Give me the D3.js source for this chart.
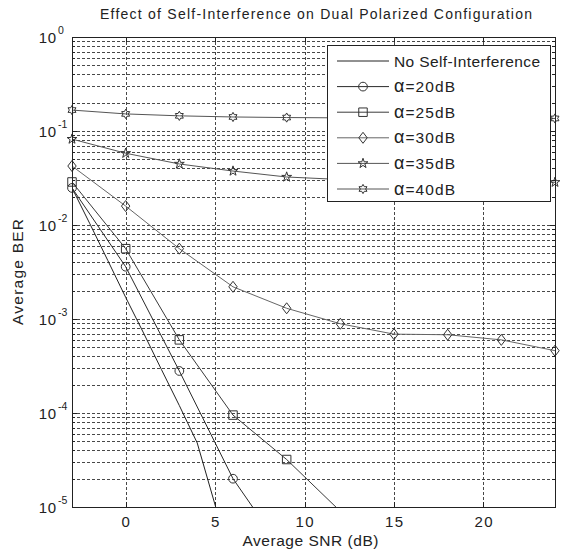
<!DOCTYPE html>
<html lang="en">
<head>
<meta charset="UTF-8">
<title>Self-Interference BER</title>
<style>
    body { margin: 0; background: #fff; }
    svg { display: block; font-family: "Liberation Sans", Arial, sans-serif; }
</style>
</head>
<body>
<div id="chart"></div>
<script src="https://d3js.org/d3.v7.min.js"></script>
<script>
// x values
const snrNoSI = [-3, -2, -1, 0, 1, 2, 3, 4, 5, 6];
const snrMarked = [-3, 0, 3, 6, 9, 12, 15, 18, 21, 24];

// BER values
const berNoSI = [0.0248, 0.0103, 0.0042, 0.0017, 7.1e-4, 2.9e-4, 1.2e-4, 4.8e-5, 1.05e-5, 2.2e-6];
const ber20 = [0.0248, 0.0036, 2.8e-4, 2.0e-5, 3.0e-6];
const ber25 = [0.0287, 0.0056, 6.0e-4, 9.5e-5, 3.2e-5, 9.0e-6];
const ber30 = [0.0424, 0.0159, 0.0056, 0.0022, 0.0013, 8.9e-4, 6.9e-4, 6.8e-4, 6.0e-4, 4.6e-4];
const ber35 = [0.082, 0.058, 0.0446, 0.0375, 0.0324, 0.0305, 0.0295, 0.029, 0.0285, 0.0285];
const ber40 = [0.167, 0.152, 0.145, 0.141, 0.139, 0.138, 0.137, 0.137, 0.136, 0.136];

const legendNames = ['No Self-Interference', '20dB', '25dB', '30dB', '35dB', '40dB'];
const xTicks = [0, 5, 10, 15, 20];
const yDecades = [0, -1, -2, -3, -4, -5];

const width = 561, height = 552;
const margin = { top: 37, right: 6, bottom: 45, left: 72 };
const innerW = width - margin.left - margin.right;
const innerH = height - margin.top - margin.bottom;

const svg = d3.select('#chart').append('svg').attr('width', width).attr('height', height);

const x = d3.scaleLinear().domain([-3, 24]).range([0, innerW]);
const y = d3.scaleLog().domain([1e-5, 1]).range([innerH, 0]);

const g = svg.append('g').attr('transform', `translate(${margin.left},${margin.top})`);

svg.append('defs').append('clipPath').attr('id', 'plotClip')
    .append('rect').attr('width', innerW).attr('height', innerH);

// grid: minor log lines + decades + x ticks
const minorVals = [];
for (let e = -5; e < 0; e++) {
    for (let m = 1; m <= 9; m++) minorVals.push(m * Math.pow(10, e));
}
const grid = g.append('g').attr('stroke', '#333').attr('stroke-width', 0.9).attr('stroke-dasharray', '3,2');
grid.selectAll('.hy').data(minorVals.filter(v => v > 1e-5)).enter().append('line')
    .attr('x1', 0).attr('x2', innerW)
    .attr('y1', d => Math.round(y(d)) + 0.5).attr('y2', d => Math.round(y(d)) + 0.5);
grid.selectAll('.vx').data(xTicks).enter().append('line')
    .attr('y1', 0).attr('y2', innerH)
    .attr('x1', d => Math.round(x(d)) + 0.5).attr('x2', d => Math.round(x(d)) + 0.5);

// series
const series = [
    { xs: snrNoSI, ys: berNoSI, marker: null, color: '#222' },
    { xs: snrMarked, ys: ber20, marker: 'circle', color: '#2a2a2a' },
    { xs: snrMarked, ys: ber25, marker: 'square', color: '#3a3a3a' },
    { xs: snrMarked, ys: ber30, marker: 'diamond', color: '#666' },
    { xs: snrMarked, ys: ber35, marker: 'star', color: '#555' },
    { xs: snrMarked, ys: ber40, marker: 'hexagram', color: '#555' }
];

function hexagramPath(r) {
    const pts = [];
    for (let i = 0; i < 12; i++) {
        const a = Math.PI / 2 + i * Math.PI / 6;
        const rr = i % 2 === 0 ? r : r * 0.58;
        pts.push([rr * Math.cos(a), -rr * Math.sin(a)]);
    }
    return 'M' + pts.map(p => p[0].toFixed(2) + ',' + p[1].toFixed(2)).join('L') + 'Z';
}

function markerPath(type) {
    if (type === 'circle') return d3.symbol(d3.symbolCircle, 60)();
    if (type === 'square') return d3.symbol(d3.symbolSquare, 72)();
    if (type === 'diamond') return 'M0,-5.5L4.2,0L0,5.5L-4.2,0Z';
    if (type === 'star') return d3.symbol(d3.symbolStar, 30)();
    if (type === 'hexagram') return hexagramPath(4.6);
    return null;
}

const line = d3.line().x(d => x(d[0])).y(d => y(d[1]));

const plot = g.append('g');
series.forEach(s => {
    const pts = s.ys.map((v, i) => [s.xs[i], v]);
    plot.append('path').datum(pts)
        .attr('clip-path', 'url(#plotClip)')
        .attr('fill', 'none').attr('stroke', s.color).attr('stroke-width', 1)
        .attr('d', line);
    if (s.marker) {
        plot.selectAll(null).data(pts.filter(p => p[1] >= 1e-5)).enter().append('path')
            .attr('transform', d => `translate(${x(d[0])},${y(d[1])})`)
            .attr('d', markerPath(s.marker))
            .attr('fill', 'none').attr('stroke', '#333').attr('stroke-width', 1);
    }
});

// box and ticks
g.append('rect').attr('x', 0.5).attr('y', 0.5).attr('width', innerW).attr('height', innerH)
    .attr('fill', 'none').attr('stroke', '#222').attr('stroke-width', 1);

const ticks = g.append('g').attr('stroke', '#222').attr('stroke-width', 1);
xTicks.forEach(t => {
    const px = Math.round(x(t)) + 0.5;
    ticks.append('line').attr('x1', px).attr('x2', px).attr('y1', innerH).attr('y2', innerH - 5);
    ticks.append('line').attr('x1', px).attr('x2', px).attr('y1', 0).attr('y2', 5);
});
minorVals.concat([1]).forEach(v => {
    const py = Math.round(y(v)) + 0.5;
    const len = Math.abs(Math.log10(v) - Math.round(Math.log10(v))) < 1e-9 ? 5 : 3;
    ticks.append('line').attr('x1', 0).attr('x2', len).attr('y1', py).attr('y2', py);
    ticks.append('line').attr('x1', innerW - len).attr('x2', innerW).attr('y1', py).attr('y2', py);
});

// tick labels
g.selectAll('.xl').data(xTicks).enter().append('text')
    .attr('x', d => x(d) + 0.7).attr('y', innerH + 20)
    .attr('text-anchor', 'middle').attr('font-size', 15).attr('letter-spacing', 1.4)
    .attr('fill', '#222')
    .text(d => d);

const yl = g.selectAll('.yl').data(yDecades).enter().append('g')
    .attr('transform', d => `translate(0,${y(Math.pow(10, d))})`);
yl.append('text').attr('x', -15).attr('y', 6).attr('text-anchor', 'end')
    .attr('font-size', 15).attr('letter-spacing', 0.8).attr('fill', '#222').text('10');
yl.append('text').attr('x', -14).attr('y', -3).attr('text-anchor', 'start')
    .attr('font-size', 10.5).attr('fill', '#222').text(d => d === 0 ? '0' : '-' + Math.abs(d));

// titles
svg.append('text').attr('x', 316).attr('y', 19)
    .attr('text-anchor', 'middle').attr('font-size', 14).attr('fill', '#222')
    .attr('textLength', 432)
    .text('Effect of Self-Interference on Dual Polarized Configuration');
svg.append('text').attr('x', margin.left + innerW / 2 - 3).attr('y', 546)
    .attr('text-anchor', 'middle').attr('font-size', 15.5).attr('fill', '#222')
    .attr('textLength', 136)
    .text('Average SNR (dB)');
svg.append('text').attr('transform', `translate(23,${margin.top + innerH / 2})rotate(-90)`)
    .attr('text-anchor', 'middle').attr('font-size', 15.5).attr('fill', '#222')
    .attr('textLength', 106)
    .text('Average BER');

// legend
const lg = svg.append('g').attr('transform', 'translate(327,45)');
lg.append('rect').attr('x', 0.5).attr('y', 0.5).attr('width', 223).attr('height', 156)
    .attr('fill', '#fff').attr('stroke', '#222').attr('stroke-width', 1);
series.forEach((s, i) => {
    const ly = 16 + i * 25.6;
    lg.append('line').attr('x1', 10).attr('x2', 62).attr('y1', ly).attr('y2', ly)
        .attr('stroke', s.color).attr('stroke-width', 1);
    if (s.marker) {
        lg.append('path').attr('transform', `translate(36,${ly})`).attr('d', markerPath(s.marker))
            .attr('fill', 'none').attr('stroke', '#333');
    }
    const t = lg.append('text').attr('x', 67).attr('y', ly + 5.5).attr('font-size', 15.5).attr('fill', '#222');
    if (i === 0) {
        t.attr('textLength', 146).text(legendNames[i]);
    } else {
        t.attr('textLength', 61);
        t.append('tspan').attr('font-size', 18).text('\u03B1');
        t.append('tspan').text('=' + legendNames[i]);
    }
});
</script>
</body>
</html>
